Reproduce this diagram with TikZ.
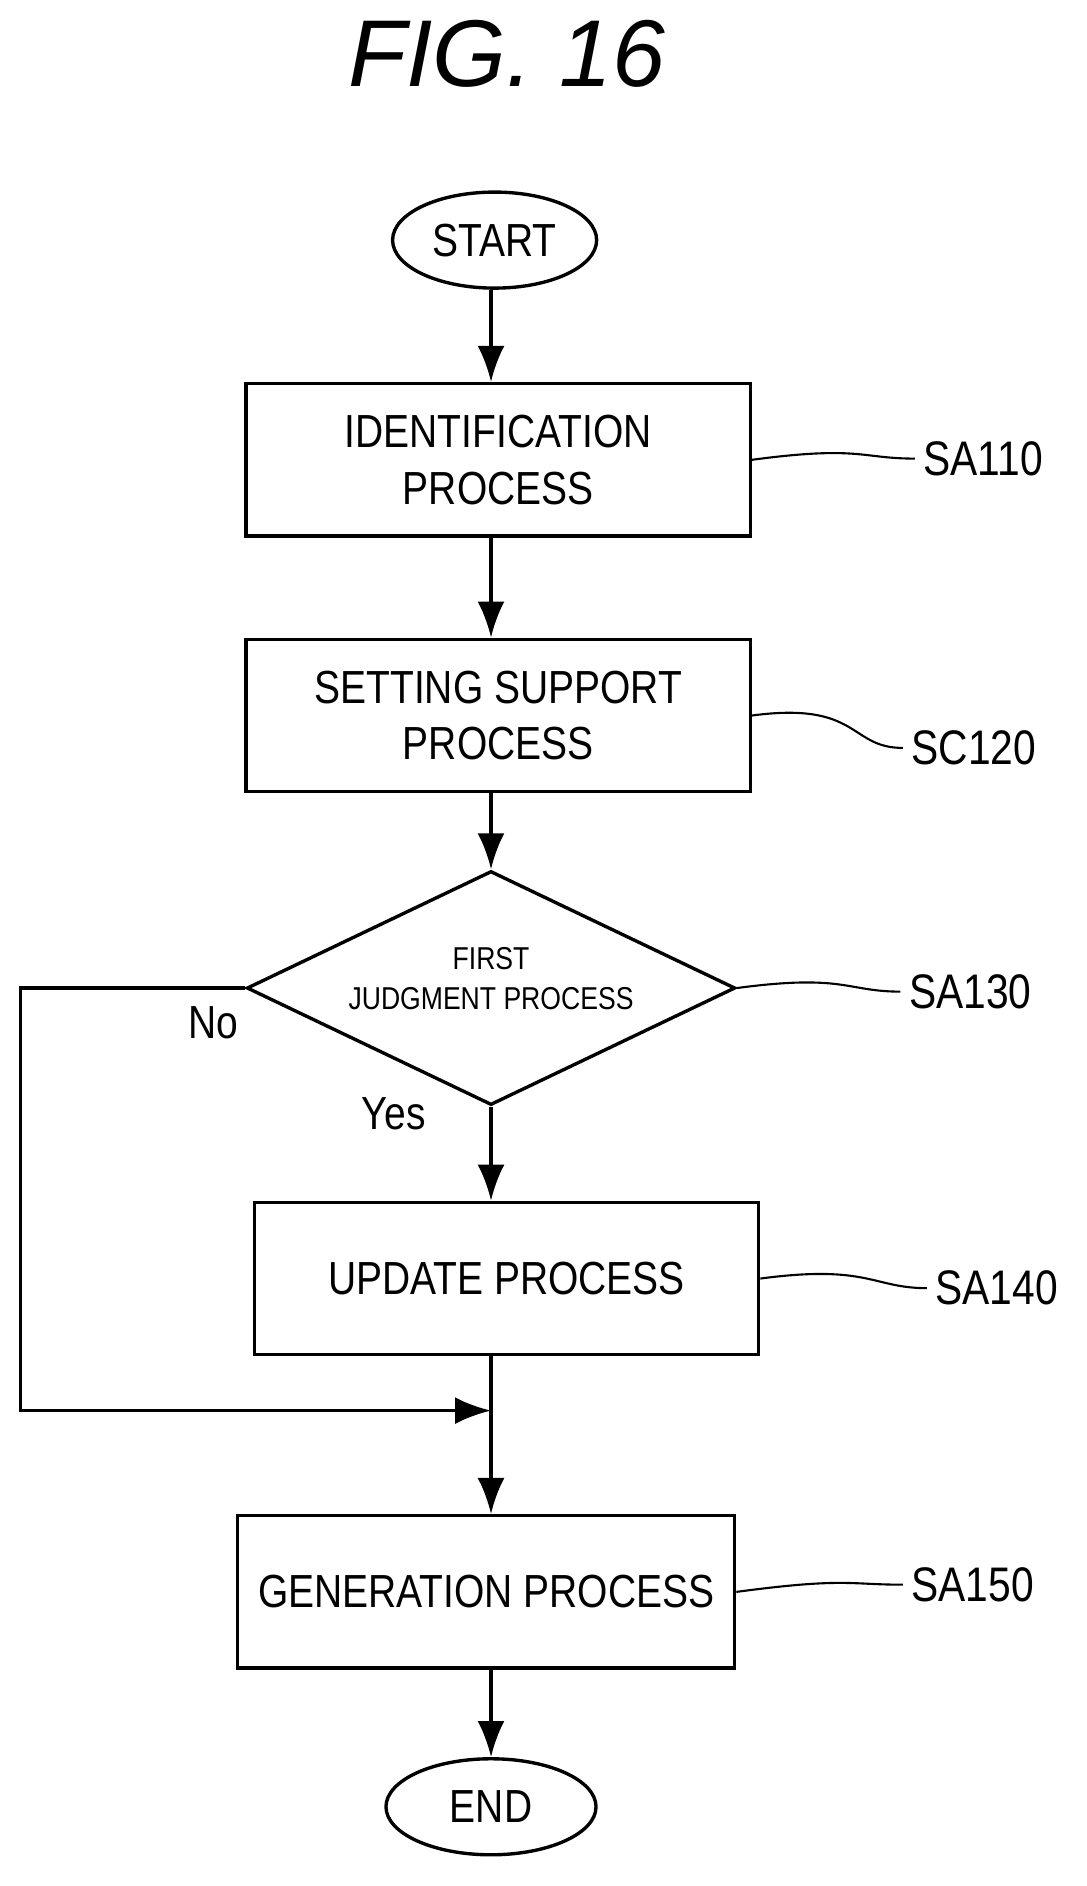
\documentclass[tikz,border=0pt]{standalone}
\usepackage{fontspec}
\setmainfont{Liberation Sans}[FakeStretch=0.84]
\newfontfamily\titlefont{Liberation Sans}
\usetikzlibrary{arrows.meta, shapes.geometric}

\begin{document}
\begin{tikzpicture}[
            x = 0.02cm, y = -0.02cm, % pixel grid of the figure
            line width = 1.6pt,
            > = {Latex[length=0.6cm, width=0.45cm]}, % big solid heads
            every node/.style = {font=\fontsize{22}{27}\selectfont, align=center},
        ]

        \tikzstyle{process}=[draw, rectangle, line width=1.6pt,
            minimum width=8.4cm, minimum height=2.54cm, inner sep=0pt]
        \tikzstyle{terminal}=[draw, ellipse, line width=1.6pt,
            minimum width=3.4cm, minimum height=1.6cm, inner sep=0pt]
        \tikzstyle{decision}=[draw, diamond, line width=1.6pt,
            minimum width=8.14cm, minimum height=3.9cm, inner sep=0pt]
        \tikzstyle{tag}=[anchor=west, font=\fontsize{23}{27}\selectfont]

        \useasboundingbox (0,0) rectangle (905,1571);

        \node[font=\titlefont\itshape\fontsize{45}{54}\selectfont] (title) at (422,45) {FIG. 16};

        \node[terminal] (start) at (412,200) {START};
        \node[process] (b1) at (415,383) {IDENTIFICATION\\PROCESS};
        \node[process] (b2) at (415,596) {SETTING SUPPORT\\PROCESS};
        \node[decision] (d1) at (409,823) {};
        \node[font=\fontsize{15}{19}\selectfont] (d1t) at (409,815) {FIRST\\JUDGMENT PROCESS};
        \node[process] (b4) at (422,1065) {UPDATE PROCESS};
        \node[process, minimum width=8.28cm] (b5) at (405,1326) {GENERATION PROCESS};
        \node[terminal, minimum width=3.5cm] (end) at (409,1505) {END};

        \node (no) at (178,852) {No};
        \node (yes) at (328,928) {Yes};

        % step tags
        \node[tag] (t1) at (762,382) {SA110};
        \node[tag] (t2) at (752,623) {SC120};
        \node[tag] (t3) at (750,826) {SA130};
        \node[tag] (t4) at (772,1073) {SA140};
        \node[tag] (t5) at (752,1320) {SA150};

        \foreach \b/\t in {b1/t1, b2/t2, d1/t3, b4/t4, b5/t5}
            \draw[line width=1pt] (\b.east) .. controls +(90,-12) and +(-45,0) .. (\t.west);

        \coordinate (m) at (409,1175);

        \draw[->] (start.south -| d1.north) -- (b1.north -| d1.north);
        \draw[->] (b1.south -| d1.north) -- (b2.north -| d1.north);
        \draw[->] (b2.south -| d1.north) -- (d1.north);
        \draw[->] (d1.south) -- (b4.north -| d1.south);
        \draw[->] (d1.west) -- ++(-187,0) |- (m);
        \draw[->] (m |- b4.south) -- (m |- b5.north);
        \draw[->] (m |- b5.south) -- (end);
    \end{tikzpicture}
\end{document}
